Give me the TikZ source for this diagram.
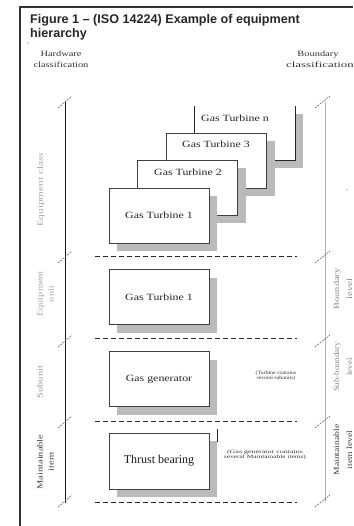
\documentclass[tikz,border=0pt]{standalone}
\usepackage{fontspec}
\setmainfont{Liberation Serif}
\newfontfamily\titlefont{Liberation Sans}
\usetikzlibrary{shadows}
\newcommand\sx[2]{\scalebox{#1}[1]{#2}}
\begin{document}
\begin{tikzpicture}[x=1pt,y=-1pt,
  box/.style={draw=black!75, line width=0.8pt, fill=white, minimum width=100pt,
    minimum height=55pt, inner sep=0pt,
    general shadow={fill=black!27, shadow xshift=8pt, shadow yshift=-8pt}},
  boxtxt/.style={font=\fontsize{9.5}{10}\selectfont, text=black!85, inner sep=0pt},
  hdr/.style={anchor=base, font=\fontsize{8}{10}\selectfont, text=black!80, inner sep=0pt},
  vlab/.style={rotate=90, align=center, font=\fontsize{8}{11}\selectfont, inner sep=0pt},
  rlab/.style={rotate=90, align=center, font=\fontsize{8}{13}\selectfont, inner sep=0pt},
  ann/.style={align=center, font=\fontsize{5}{5.5}\selectfont, text=black!80, inner sep=0pt},
  sep/.style={line width=1pt, draw=black!85, dash pattern=on 5pt off 3pt},
  tick/.style={line width=0.6pt, draw=black!60, dash pattern=on 2pt off 1pt},
  frame/.style={line width=1.2pt, draw=black!80},
  dot/.style={circle, fill=black!70, inner sep=0pt, minimum size=1.3pt}
]
\useasboundingbox (0,0) rectangle (353,526);

% outer frame
\coordinate (fb) at (20,526);
\coordinate (ftl) at (20,7);
\coordinate (ftr) at (353,7);
\draw[frame] (fb) -- (ftl) -- (ftr);

% title
\node[anchor=base west, inner sep=0pt, font=\titlefont\bfseries\fontsize{12.6}{14}\selectfont, text=black!85] (title1) at (30,24) {Figure 1 – (ISO 14224) Example of equipment};
\node[anchor=base west, inner sep=0pt, font=\titlefont\bfseries\fontsize{12.6}{14}\selectfont, text=black!85] (title2) at (30,38) {hierarchy};
\node[dot] (dot1) at (28,43) {};
\node[dot] (dot2) at (347,190) {};

% column headers
\node[hdr] (hw1) at (61,57) {\sx{1.3}{Hardware}};
\node[hdr] (hw2) at (61,68) {\sx{1.3}{classification}};
\node[hdr] (bc1) at (318,57) {\sx{1.3}{Boundary}};
\node[hdr, anchor=base west] (bc2) at (286,68) {\sx{1.6}{classification}};

% axes
\coordinate (lt) at (65,102);
\coordinate (lb) at (65,503);
\coordinate (rt) at (325,102);
\coordinate (rb) at (325,502);
\draw[line width=1pt, black!90] (lt) -- (lb);
\draw[line width=0.6pt, black!30] (rt) -- (rb);

% ticks
\foreach \yy [count=\i] in {102,257,341,422,501}{
  \coordinate (ltA\i) at (58,\yy+6);
  \coordinate (ltB\i) at (72,\yy-6);
  \coordinate (rtA\i) at (315,\yy+6);
  \coordinate (rtB\i) at (330,\yy-6);
  \draw[tick] (ltA\i) -- (ltB\i);
  \draw[tick] (rtA\i) -- (rtB\i);
}

% separators
\foreach \yy [count=\i] in {256,338,421,502}{
  \coordinate (sL\i) at (95,\yy);
  \coordinate (sR\i) at (297,\yy);
  \draw[sep] (sL\i) -- (sR\i);
}

% stacked gas turbines
\node[box, draw=none, minimum height=54pt] (gtn) at (245,133) {};
\draw[black!85, line width=1pt] (gtn.north west) -- (gtn.south west) -- (gtn.south east) -- (gtn.north east);
\node[boxtxt] (gtntxt) at (235,118) {\sx{1.25}{Gas Turbine n}};
\node[box] (gt3) at (216.5,160.5) {};
\node[boxtxt] (gt3txt) at (216,144) {\sx{1.25}{Gas Turbine 3}};
\node[box] (gt2) at (187.5,187.5) {};
\node[boxtxt] (gt2txt) at (188,172) {\sx{1.25}{Gas Turbine 2}};
\node[box] (gt1) at (159,215.5) {};
\node[boxtxt] (gt1txt) at (gt1.center) {\sx{1.25}{Gas Turbine 1}};

% lower boxes
\node[box] (unit) at (159,297) {};
\node[boxtxt] (unittxt) at (unit.center) {\sx{1.25}{Gas Turbine 1}};
\node[box] (sub) at (159,379) {};
\node[boxtxt] (subtxt) at (sub.center) {\sx{1.25}{Gas generator}};
\node[box, minimum height=56pt] (tb) at (159,461) {};
\node[inner sep=0pt, font=\fontsize{12}{12}\selectfont, text=black!90] (tbtxt) at (tb.center) {Thrust bearing};
\coordinate (mkA) at (217,429);
\coordinate (mkB) at (217,442);
\draw[line width=1pt, black!85] (mkA) -- (mkB);

% annotations
\node[ann] (annsub) at (276,376) {\sx{1.15}{(Turbine contains}\\\sx{1.15}{several subunits)}};
\node[ann] (anntb) at (265,455) {\sx{1.6}{(Gas generator contains}\\\sx{1.47}{several Maintainable items)}};

% left labels
\node[vlab, text=black!35] (lclass) at (41,190) {\sx{1.4}{Equipment class}};
\node[vlab, text=black!35] (lunit) at (45.5,294) {\sx{1.3}{Equipment}\\\sx{1.3}{unit}};
\node[vlab, text=black!40] (lsub) at (40,382) {\sx{1.3}{Subunit}};
\node[vlab, text=black!75] (lmi) at (45.5,462) {\sx{1.3}{Maintainable}\\\sx{1.3}{item}};

% right labels
\node[rlab, text=black!45] (rbl) at (343,289) {\sx{1.3}{Boundary}\\\sx{1.3}{level}};
\node[rlab, text=black!45] (rsbl) at (343,367) {\sx{1.1}{Sub-boundary}\\\sx{1.1}{level}};
\node[rlab, text=black!75] (rmil) at (343,450) {\sx{1.2}{Maintainable}\\\sx{1.2}{item level}};
\end{tikzpicture}
\end{document}
